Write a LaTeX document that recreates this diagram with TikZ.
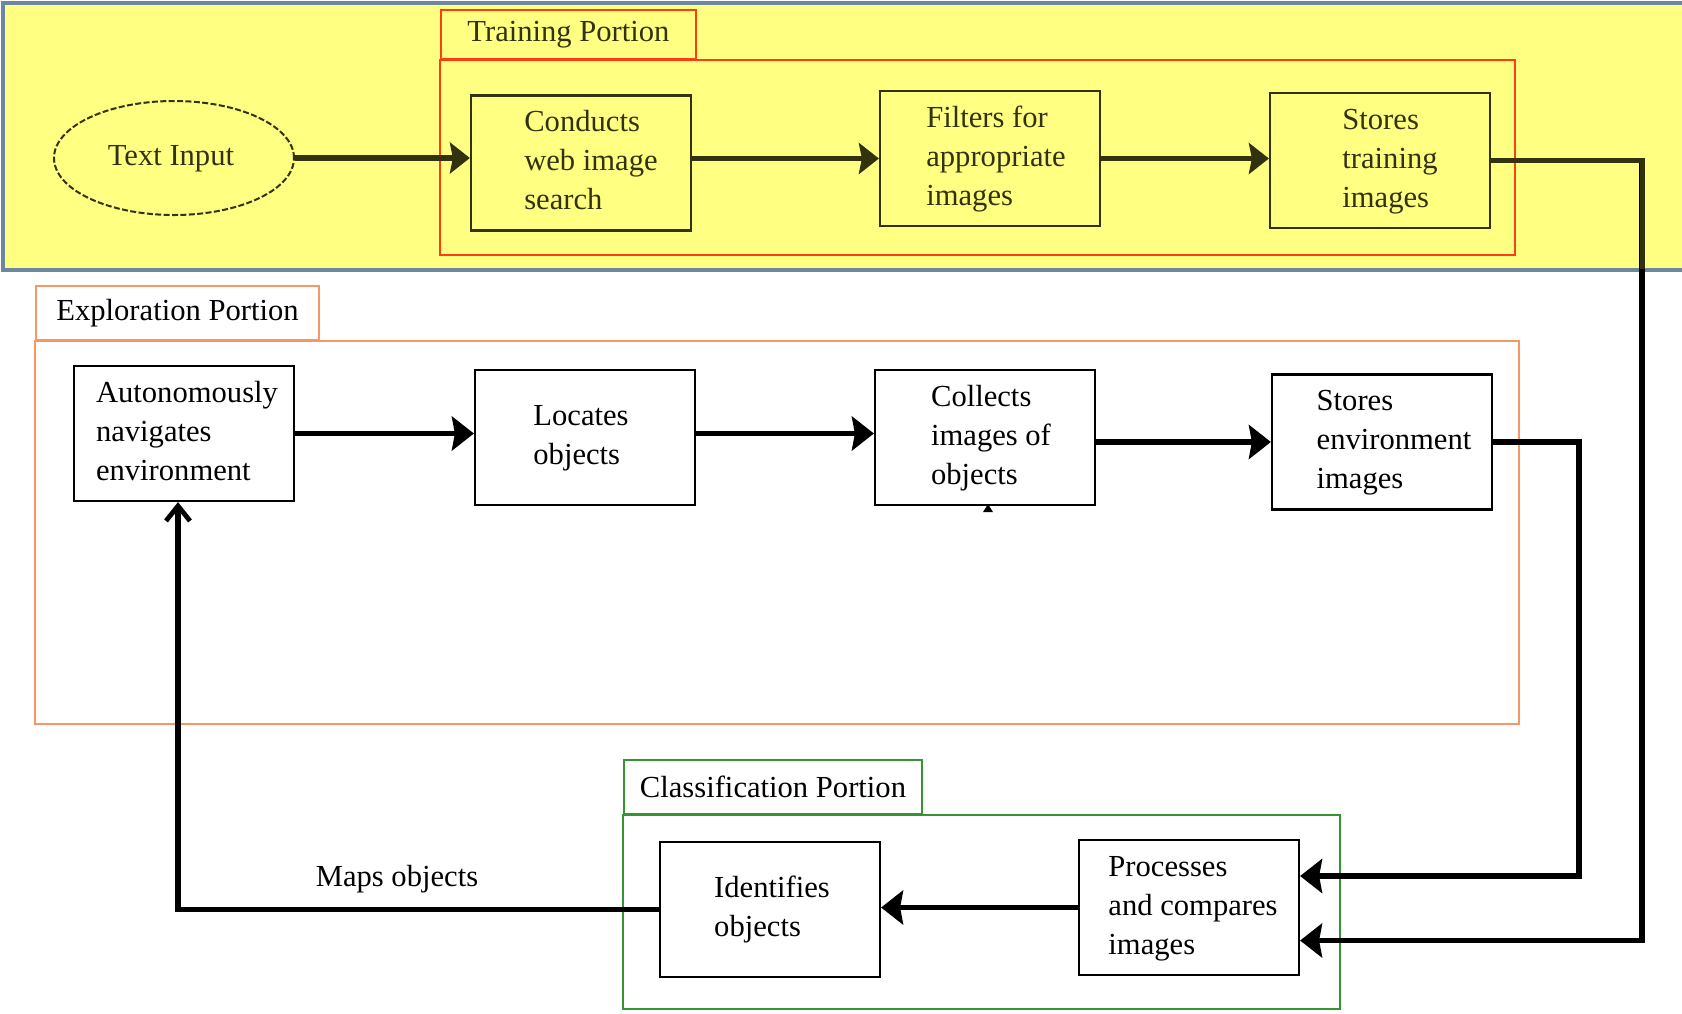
\documentclass[tikz,border=0pt]{standalone}
\usepackage{fontspec}
\setmainfont{Liberation Serif}
\usetikzlibrary{shapes.geometric,arrows.meta,calc}
\definecolor{bandY}{RGB}{255,255,130}
\definecolor{bandB}{RGB}{110,135,160}
\definecolor{trRed}{RGB}{255,60,20}
\definecolor{exOr}{RGB}{250,150,100}
\definecolor{clGr}{RGB}{50,150,50}
\definecolor{olv}{RGB}{50,50,15}
\newcommand{\bxr}[2]{\begin{tabular}{@{\hspace{#1pt}}l@{}}#2\end{tabular}}
\newcommand{\bxl}[2]{\begin{tabular}{@{}l@{\hspace{#1pt}}}#2\end{tabular}}
\begin{document}
\begin{tikzpicture}[x=0.5pt,y=-0.5pt,
  txt/.style={font=\fontsize{15.3}{19.5}\selectfont},
  box/.style={txt, draw=black, line width=1.1pt, fill=white, minimum width=110pt, minimum height=67.5pt, inner sep=0pt},
  tbox/.style={txt, draw=olv, line width=1.1pt, minimum width=110pt, minimum height=67.5pt, inner sep=0pt, text=olv},
  tab/.style={txt, draw=#1, line width=1pt, inner sep=0pt, anchor=south west},
  blk/.style={line width=2.7pt, -{Stealth[length=11pt,width=17pt,inset=1.5pt]}},
  oarrow/.style={draw=olv, line width=2.6pt, -{Stealth[length=10pt,width=15.5pt,inset=1.5pt]}},
]
\useasboundingbox (0,0) rectangle (1682,1013);
% yellow band
\fill[bandY] (3,3) rectangle (1682,270);
\draw[bandB, line width=2pt] (1682,3) -- (3,3) -- (3,270) -- (1682,270);
% group frames
\draw[trRed, line width=1pt] (440,60) rectangle (1515,255);
\node[tab=trRed, minimum width=127.5pt, minimum height=24.5pt, text=olv] (ttab) at (440,60) {Training Portion};
\draw[exOr, line width=1.1pt] (35,341) rectangle (1519,724);
\node[tab=exOr, minimum width=141.5pt, minimum height=27pt] (etab) at (35,341) {Exploration Portion};
\draw[clGr, line width=1.1pt] (623,815) rectangle (1340,1009);
\node[tab=clGr, minimum width=149pt, minimum height=27pt] (ctab) at (623,815) {Classification Portion};
% training nodes
\node[ellipse, draw=olv, line width=1pt, dash pattern=on 3pt off 1.2pt, minimum width=120pt, minimum height=57pt, inner sep=0pt, txt, text=olv] (ti) at (174,158) {\bxl{3}{Text Input}};
\node[tbox] (cw) at (581,163) {\bxr{10}{Conducts\\web image\\search}};
\node[tbox] (fi) at (990,158.5) {\bxr{6}{Filters for\\appropriate\\images}};
\node[tbox] (st) at (1380,160.5) {\bxr{10}{Stores\\training\\images}};
% exploration nodes
\node[box] (au) at (184,433.5) {\bxr{3}{Autonomously\\navigates\\environment}};
\node[box] (lo) at (585,437.5) {\bxl{4}{Locates\\objects}};
\node[box] (co) at (985,437.5) {\bxr{6}{Collects\\images of\\objects}};
\node[box] (se) at (1382,442) {\bxr{12}{Stores\\environment\\images}};
% classification nodes
\node[box] (id) at (770,909.5) {\bxr{2}{Identifies\\objects}};
\node[box] (pr) at (1189,907.5) {\bxr{4}{Processes\\and compares\\images}};
\node[txt] (mo) at (397,879) {Maps objects};
% connectors
\draw[oarrow] (ti.east) -- (ti.east -| cw.west);
\draw[oarrow] (cw.east |- fi.west) -- (fi.west);
\draw[oarrow] (fi.east) -- (fi.east -| st.west);
\draw[blk] (st.east) -- ++(151,0) |- ($(pr.east)+(0,33)$);
\begin{scope}
\clip (0,0) rectangle (1682,268);
\draw[olv, line width=2.6pt] (st.east) -- ++(151,0) -- ++(0,200);
\end{scope}
\draw[blk] (au.east) -- (au.east -| lo.west);
\draw[blk] (lo.east |- au.east) -- (au.east -| co.west);
\draw[blk] (co.east |- se.west) -- (se.west);
\draw[blk] (se.east) -- ++(86,0) |- ($(pr.east)+(0,-31.5)$);
\draw[blk] (pr.west) -- (pr.west -| id.east);
\draw[line width=2.7pt, -{Straight Barb[length=7.5pt,width=12pt,line width=2.4pt]}] (id.west) -| ([xshift=-3pt]au.south);
\fill (co.south) ++(3,-2) -- ++(-5,8) -- ++(10,0) -- cycle;
\end{tikzpicture}
\end{document}
